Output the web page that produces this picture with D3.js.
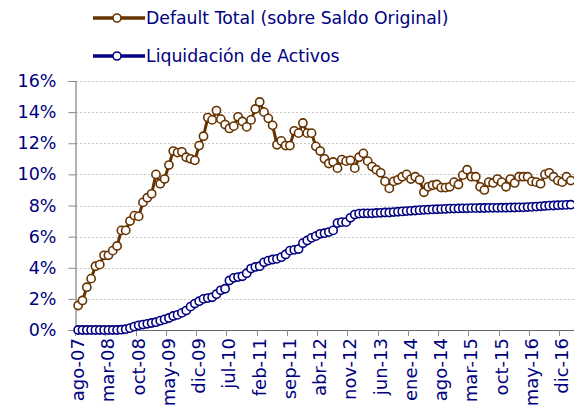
<!DOCTYPE html>
<html lang="es">
<head>
<meta charset="UTF-8">
<title>Default y Liquidación</title>
<script src="https://cdn.jsdelivr.net/npm/d3@7/dist/d3.min.js"></script>
<style>
  body { margin: 0; background: #fff; }
  text { font-family: "DejaVu Sans", Verdana, sans-serif; fill: #000080; }
</style>
</head>
<body>
<svg width="574" height="415"></svg>
<script>
// months from ago-07 to feb-17
var monthNames = ["ene","feb","mar","abr","may","jun","jul","ago","sep","oct","nov","dic"];
var categories = [];
for (var k = 0; k < 115; k++) {
  var m = (7 + k) % 12, yr = 7 + Math.floor((7 + k) / 12);
  categories.push(monthNames[m] + "-" + (yr < 10 ? "0" + yr : "" + yr));
}

var tickLabels = ["ago-07","mar-08","oct-08","may-09","dic-09","jul-10","feb-11","sep-11",
  "abr-12","nov-12","jun-13","ene-14","ago-14","mar-15","oct-15","may-16","dic-16"];

var yTicks = [0, 2, 4, 6, 8, 10, 12, 14, 16];

var defaultTotal = [
  1.57, 1.9, 2.75, 3.3, 4.1, 4.2, 4.8, 4.8, 5.1, 5.4,
  6.4, 6.4, 7.0, 7.35, 7.3, 8.2, 8.5, 8.75, 10.0, 9.4,
  9.7, 10.6, 11.5, 11.4, 11.45, 11.1, 11.0, 10.9, 11.85, 12.45,
  13.65, 13.5, 14.1, 13.55, 13.2, 12.95, 13.1, 13.7, 13.4, 13.05,
  13.5, 14.2, 14.65, 14.0, 13.6, 13.15, 11.9, 12.15, 11.85, 11.85,
  12.8, 12.65, 13.3, 12.65, 12.65, 11.8, 11.5, 11.0, 10.7, 10.8,
  10.4, 10.95, 10.85, 10.9, 10.4, 11.1, 11.35, 10.85, 10.5, 10.3,
  10.1, 9.55, 9.1, 9.55, 9.65, 9.85, 10.0, 9.7, 9.85, 9.65,
  8.85, 9.2, 9.3, 9.35, 9.15, 9.15, 9.2, 9.5, 9.35, 9.95,
  10.3, 9.85, 9.85, 9.2, 9.0, 9.5, 9.45, 9.7, 9.5, 9.2,
  9.7, 9.45, 9.85, 9.85, 9.85, 9.55, 9.5, 9.4, 10.0, 10.1,
  9.85, 9.6, 9.5, 9.85, 9.6
];

var liquidacion = [
  0, 0, 0, 0, 0, 0, 0, 0, 0, 0,
  0.02, 0.05, 0.12, 0.22, 0.3, 0.35, 0.4, 0.45, 0.5, 0.6,
  0.68, 0.77, 0.9, 0.97, 1.1, 1.25, 1.5, 1.7, 1.85, 2.0,
  2.05, 2.1, 2.3, 2.55, 2.65, 3.18, 3.35, 3.4, 3.45, 3.65,
  3.95, 4.05, 4.1, 4.35, 4.46, 4.53, 4.57, 4.68, 4.85, 5.1,
  5.15, 5.2, 5.58, 5.75, 5.92, 6.03, 6.18, 6.22, 6.29, 6.4,
  6.87, 6.93, 6.93, 7.21, 7.42, 7.48, 7.5, 7.5, 7.5, 7.52,
  7.53, 7.55, 7.55, 7.58, 7.6, 7.62, 7.64, 7.66, 7.68, 7.7,
  7.72, 7.73, 7.75, 7.76, 7.77, 7.78, 7.8, 7.8, 7.81, 7.82,
  7.82, 7.83, 7.83, 7.84, 7.84, 7.85, 7.85, 7.85, 7.86, 7.86,
  7.87, 7.87, 7.88, 7.88, 7.9, 7.91, 7.93, 7.95, 7.97, 7.99,
  8.0, 8.02, 8.03, 8.04, 8.05
];

var brown = "#663300", navy = "#000080";

var svg = d3.select("svg");
var plotLeft = 76, plotRight = 573, plotTop = 81, plotBottom = 330;

var x = d3.scaleBand().domain(d3.range(categories.length)).range([plotLeft, plotRight]).padding(0);
var y = d3.scaleLinear().domain([0, 16]).range([plotBottom, plotTop]);
var cx = function(i) { return x(i) + x.bandwidth() / 2; };

// gridlines
svg.append("g").selectAll("line")
  .data(yTicks.filter(function(d) { return d > 0; }))
  .enter().append("line")
  .attr("x1", plotLeft).attr("x2", 574)
  .attr("y1", function(d) { return Math.round(y(d)) + 0.5; })
  .attr("y2", function(d) { return Math.round(y(d)) + 0.5; })
  .attr("stroke", "#c8c8c8").attr("stroke-dasharray", "2,2").attr("stroke-width", 1);

// y axis
var yAxis = svg.append("g")
  .attr("transform", "translate(" + (plotLeft - 0.5) + ",0)")
  .call(d3.axisLeft(y).tickValues(yTicks).tickSize(7).tickPadding(12)
    .tickFormat(function(d) { return d + "%"; }));
yAxis.select(".domain").attr("stroke", "#666");
yAxis.selectAll("line").attr("stroke", "#888");
yAxis.selectAll("text").style("font-size", "17.5px").style("font-family", "DejaVu Sans").attr("fill", navy);

// x axis: ticks at category boundaries every 7 months
var bx = svg.append("g");
bx.append("line").attr("x1", plotLeft - 0.5).attr("x2", 574)
  .attr("y1", plotBottom + 0.5).attr("y2", plotBottom + 0.5).attr("stroke", "#666");
var tickIdx = tickLabels.map(function(t) { return categories.indexOf(t); });
bx.selectAll(".tk").data(tickIdx).enter().append("line")
  .attr("x1", function(i) { return Math.round(x(i)) - 0.5; })
  .attr("x2", function(i) { return Math.round(x(i)) - 0.5; })
  .attr("y1", plotBottom).attr("y2", plotBottom + 6).attr("stroke", "#888");
bx.selectAll(".lb").data(tickIdx).enter().append("text")
  .attr("transform", function(i) { return "translate(" + (cx(i) + 6) + "," + (plotBottom + 8) + ") rotate(-90)"; })
  .attr("text-anchor", "end")
  .style("font-size", "18px")
  .text(function(i) { return categories[i]; });

// series
function drawSeries(values, color) {
  var line = d3.line().x(function(d, i) { return cx(i); }).y(function(d) { return y(d); });
  svg.append("path").datum(values).attr("d", line)
    .attr("fill", "none").attr("stroke", color).attr("stroke-width", 3);
  svg.append("g").selectAll("circle").data(values).enter().append("circle")
    .attr("cx", function(d, i) { return cx(i); })
    .attr("cy", function(d) { return y(d); })
    .attr("r", 4.1)
    .attr("fill", "#fff").attr("stroke", color).attr("stroke-width", 1.6);
}
drawSeries(liquidacion, navy);
drawSeries(defaultTotal, brown);

// legend
var legend = [
  { name: "Default Total (sobre Saldo Original)", color: brown, y: 18 },
  { name: "Liquidación de Activos", color: navy, y: 56 }
];
var lg = svg.append("g").selectAll("g").data(legend).enter().append("g")
  .attr("transform", function(d) { return "translate(0," + d.y + ")"; });
lg.append("line").attr("x1", 93).attr("x2", 145).attr("stroke", function(d) { return d.color; }).attr("stroke-width", 3.5);
lg.append("circle").attr("cx", 117).attr("r", 4).attr("fill", "#fff")
  .attr("stroke", function(d) { return d.color; }).attr("stroke-width", 1.6);
lg.append("text").attr("x", 146).attr("y", 6).style("font-size", "17.3px")
  .text(function(d) { return d.name; });
</script>
</body>
</html>
